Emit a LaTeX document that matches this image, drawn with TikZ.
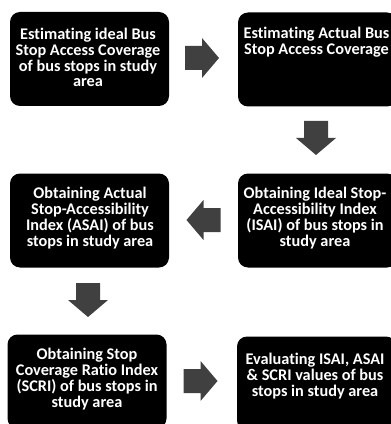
\documentclass[tikz,border=0pt]{standalone}
\usepackage{fontspec}
\setmainfont{Carlito}[Ligatures=NoCommon]
\definecolor{arrowgray}{HTML}{404040}
\begin{document}
\begin{tikzpicture}[x=0.75pt,y=-0.75pt,
  box/.style={fill=black, rounded corners=7.5pt, minimum width=119.25pt, minimum height=70.5pt, inner sep=0pt},
  lbl/.style={text=white, font=\fontsize{12.2}{11.8}\selectfont\bfseries, align=center, inner sep=0pt},
  barrow/.pic={\fill[arrowgray] (-17,-12) -- (0,-12) -- (0,-20) -- (17,0) -- (0,20) -- (0,12) -- (-17,12) -- cycle;}]
\useasboundingbox (0,0) rectangle (391,424);
\clip (0,0) rectangle (391,424);
% boxes
\node[box] (b1) at (89.5,59) {};
\node[box] (b2) at (317.5,59.5) {};
\node[box] (b3) at (89.5,220.5) {};
\node[box] (b4) at (317.5,220.5) {};
\node[box] (b5) at (87,381.5) {};
\node[box] (b6) at (316.5,383.5) {};
% texts
\node[lbl] (t1) at (88,57.5) {Estimating ideal Bus\\Stop Access Coverage\\of bus stops in study\\area};
\node[lbl] (t2) at (316.5,42) {Estimating Actual Bus\\Stop Access Coverage};
\node[lbl] (t3) at (90,218) {Obtaining Actual\\Stop-Accessibility\\Index (ASAI) of bus\\stops in study area};
\node[lbl] (t4) at (315,218) {Obtaining Ideal Stop-\\Accessibility Index\\(ISAI) of bus stops in\\study area};
\node[lbl] (t5) at (87,379) {Obtaining Stop\\Coverage Ratio Index\\(SCRI) of bus stops in\\study area};
\node[lbl] (t6) at (315,376) {Evaluating ISAI, ASAI\\\& SCRI values of bus\\stops in study area};
% block arrows
\pic at (202,58) {barrow};
\pic[rotate=-90] at (316,138) {barrow};
\pic[rotate=180] at (203.5,220) {barrow};
\pic[rotate=-90] at (88,300) {barrow};
\pic at (200.5,381) {barrow};
\end{tikzpicture}
\end{document}
